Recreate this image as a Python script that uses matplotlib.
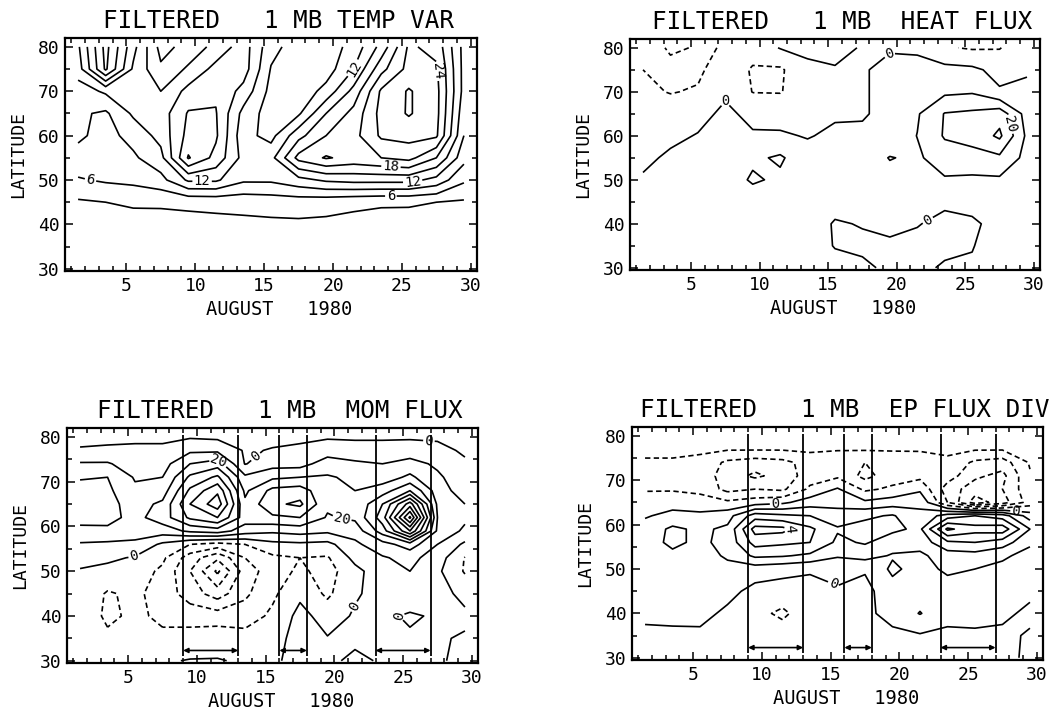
import matplotlib.pyplot as plt
import numpy as np

plt.rcParams['font.family'] = ['DejaVu Sans Mono', 'DejaVu Sans']
plt.rcParams['lines.dashed_pattern'] = [3.2, 2.0]

# grid of the filtered fields (day of August, latitude)
days = [1.5, 3.5, 5.5, 7.5, 9.5, 11.5, 13.5, 15.5, 17.5, 19.5, 21.5, 23.5, 25.5, 27.5, 29.5]
lat_top = [30, 35, 40, 45, 50, 55, 60, 65, 70, 75, 80]
lat_bot = [30, 35, 40, 45, 50, 53, 56, 59, 62, 65, 68, 71, 74, 77, 80]

# temperature variance, rows = lat_top
temp_var = [
    [1.0, 1.0, 1.0, 1.0, 1.0, 1.0, 1.0, 1.0, 1.0, 1.0, 1.0, 1.0, 1.0, 1.0, 1.0],
    [1.5, 1.5, 1.5, 1.5, 1.5, 1.5, 1.5, 1.5, 1.5, 1.5, 1.5, 1.5, 1.5, 1.5, 1.5],
    [1.8, 1.8, 1.9, 2.0, 2.1, 2.2, 2.3, 2.4, 2.5, 2.4, 2.2, 2.1, 2.0, 1.9, 1.8],
    [2.6, 3.0, 3.4, 3.4, 3.6, 3.8, 4.0, 4.3, 4.4, 4.1, 3.6, 3.3, 3.3, 3.0, 2.6],
    [5.7, 6.4, 6.8, 8.0, 12.5, 12.5, 9.5, 9.5, 11.0, 12.5, 13.0, 13.0, 13.0, 11.0, 6.5],
    [8.0, 7.5, 8.5, 11.0, 21.3, 17.0, 11.0, 11.0, 19.0, 21.3, 20.0, 21.0, 22.0, 18.0, 10.0],
    [9.5, 8.0, 10.0, 13.0, 19.0, 18.5, 10.0, 8.0, 14.0, 18.0, 20.0, 24.5, 25.0, 24.5, 12.0],
    [9.5, 8.5, 12.5, 13.5, 18.3, 18.2, 11.0, 7.5, 8.5, 15.0, 19.0, 25.0, 27.3, 25.0, 13.0],
    [10.5, 12.5, 12.5, 12.0, 16.0, 17.5, 14.0, 8.0, 7.0, 10.0, 16.0, 24.5, 27.3, 25.0, 14.0],
    [13.5, 24.5, 14.5, 9.5, 12.5, 16.0, 16.5, 8.8, 7.0, 7.5, 12.0, 20.0, 25.0, 24.5, 14.0],
    [14.5, 25.0, 16.0, 8.0, 10.0, 13.0, 16.5, 10.0, 7.5, 7.5, 10.0, 16.0, 24.5, 23.0, 14.0],
]

# eddy heat flux, rows = lat_top
heat_flux = [
    [3, 3, 3, 3, 3, 3, 3, 2, 1, -1, -1, 0.5, 0.5, 3, 3],
    [3, 3, 3, 3, 3, 3, 3, -0.3, -1, -1, -1.5, -1, -0.2, 2, 3],
    [3, 3, 3, 3, 3, 3, 3, -0.5, 0.3, 1.5, 0.3, -1.5, -1, 2, 3],
    [3, 3, 3, 3, 4, 4, 3, 2, 1.5, 3, 3, 1, 2, 3, 2],
    [1, 3, 3, 4, 11.5, 8, 4, 4, 5, 7, 7, 9, 8, 8.5, 4],
    [-2, 1.5, 3, 4, 8, 11.5, 3, 3, 5, 10.4, 8.5, 15, 17, 18, 7],
    [-4, -2, 0.5, 4, 1, 1, -0.5, 1.5, 2, 4, 10.2, 21, 23, 32, 8],
    [-6, -5, -3, 2, -2.5, -3, -3, -1, -1, 3, 9, 20.5, 22, 26, 6],
    [-8, -10.5, -9, -1.5, -10.3, -10.5, -5, -3, -1, 3, 5, 8, 9, 1, 1],
    [-10, -16, -12, -4, -11, -11.5, -2, -0.5, -1, 3, 2, 3, 2, -3, -0.5],
    [-12, -22, -19, -6, -6, 0.5, 2, 2, -0.5, -1, -1, -9, -11, -10.5, -3],
]

# eddy momentum flux, rows = lat_bot
mom_flux = [
    [-2, -3, -2, -1, 0.5, 0.5, -1, -1, 2, 1, -1, 0.5, 0.5, 0.5, -1],
    [-3, -8, -6, -8, -6, -4, -6, -3, 3, 0.5, 1, 2, 1, 1, -1],
    [-3, -12, -8, -12, -14, -15, -15, -8, 3, -4, 1, 1.5, -1, 1, 2],
    [-3, -11, -8, -14, -25, -35, -22, -12, -2, -12, -1, 3, 5, 4, -3],
    [-1, -3, -5, -12, -30, -52, -25, -15, -8, -14, -3, 6, 10, 2, -11],
    [4, 2, -1, -8, -25, -38, -20, -12, -10, -11, 3, 9, 13, 5, -10.5],
    [9, 8, 8, -2, -10, -14, -10, -3, -2, -3, 8, 16, 25, 10, -2],
    [17, 18, 14, 15, 22, 25, 15, 12, 14, 12, 14, 35, 70, 18, 8],
    [24, 23, 17, 25, 42, 50, 25, 28, 30, 19, 22, 45, 102, 20, 12],
    [25, 23, 16, 22, 50, 66, 22, 38, 42, 22, 21, 40, 75, 18, 10],
    [24, 22, 12, 15, 42, 58, 18, 33, 35, 22, 20, 25, 40, 15, 5],
    [19, 20, 9, 10, 32, 42, 12, 18, 20, 21, 18, 15, 22, 12, 3],
    [11, 11, 5, 6, 20, 25, -0.5, 6, 6, 15, 12, 10, 14, 8, 1],
    [1, 2, 2, 2, 8, 8, -1, 0.5, 1, 5, 3, 3, 4, 2, -1],
    [-3, -3, -2, -2, -1, -2, -2, -2, -1, -1, -1, -1, -1, -1, -2],
]

# EP flux divergence, rows = lat_bot
ep_div = [
    [-0.5, -0.4, -0.4, -0.5, -0.5, -0.5, -0.4, -0.3, -0.5, -0.3, -0.3, -0.3, -0.3, -0.3, 0.2],
    [-0.3, -0.3, -0.2, -0.4, -0.5, -0.5, -0.4, -0.4, -0.3, -0.2, -0.1, -0.2, -0.1, -0.2, 0.1],
    [0.3, 0.4, 0.3, -0.2, -0.7, -1.2, -0.4, -0.3, -0.2, 0.3, 1.05, 0.3, 0.2, 0.2, -0.2],
    [0.5, 0.8, 0.6, 0.3, -0.3, -0.4, -0.3, -0.1, -0.3, 0.6, 0.5, 0.5, 0.4, 0.5, 0.2],
    [0.6, 0.7, 0.7, 0.8, 0.5, 0.3, 0.1, 0.3, 0.1, 1.2, 0.6, 1.2, 1.0, 0.7, 0.1],
    [0.6, 0.8, 0.7, 1.1, 2.2, 2.1, 1.8, 1.1, 1.4, 0.9, 0.8, 1.5, 1.6, 1.2, 0.6],
    [0.6, 1.2, 0.8, 1.3, 3.4, 3.2, 3.0, 1.8, 2.1, 1.5, 1.4, 2.8, 3.0, 2.5, 1.2],
    [0.4, 1.2, 0.8, 1.2, 4.4, 4.3, 3.2, 2.1, 2.4, 2.2, 1.8, 5.2, 4.4, 4.6, 2.0],
    [-0.1, 0.3, 0.2, 0.6, 2.5, 2.2, 2.0, 1.5, 1.8, 2.1, 1.2, 2.5, 3.0, 2.5, 0.5],
    [-0.5, -0.4, -0.5, -0.8, -0.5, -0.2, 0.5, 0.6, 0.2, 0.5, 0.8, -2.0, -4.5, -3.5, -1.5],
    [-1.1, -1.1, -1.3, -2.3, -2.0, -2.2, -0.8, 0.1, -1.2, -0.8, -0.2, -2.5, -3.5, -3.0, -1.3],
    [-1.2, -1.2, -1.4, -2.5, -3.2, -2.6, -1.5, -1.2, -2.3, -1.5, -1.3, -1.5, -2.8, -3.3, -1.1],
    [-1.1, -1.1, -1.3, -2.2, -2.5, -2.3, -1.6, -1.8, -2.0, -1.6, -1.5, -1.2, -2.2, -2.5, -0.9],
    [-0.8, -0.8, -0.8, -0.9, -0.9, -0.9, -0.8, -0.9, -0.9, -0.9, -0.9, -0.8, -0.9, -0.9, -0.6],
    [-0.6, -0.6, -0.6, -0.6, -0.6, -0.6, -0.5, -0.5, -0.5, -0.5, -0.5, -0.5, -0.5, -0.5, -0.5],
]

temp_levels = [3, 6, 9, 12, 15, 18, 21, 24, 27]
heat_levels = [-20, -10, 0, 10, 20, 30]
mom_levels = [-60, -50, -40, -30, -20, -10, 0, 10, 20, 30, 40, 50, 60, 70, 80, 90, 100]
ep_levels = [-5, -4, -3, -2, -1, 0, 1, 2, 3, 4, 5]

# warming periods marked in the lower panels (days of August)
periods = [(9, 13), (16, 18), (23, 27)]

x_ticks = [5, 10, 15, 20, 25, 30]
y_ticks = [30, 40, 50, 60, 70, 80]


def style_axes(ax, title):
    ax.set_xlim(0.55, 30.45)
    ax.set_ylim(29.5, 82)
    ax.set_xticks(x_ticks)
    ax.set_xticks(range(1, 31), minor=True)
    ax.set_yticks(y_ticks)
    ax.set_yticks([35, 45, 55, 65, 75], minor=True)
    ax.tick_params(which='both', direction='in', top=True, right=True,
                   width=1.1, labelsize=13, pad=4)
    ax.tick_params(which='major', length=6)
    ax.tick_params(which='minor', length=3.5)
    for s in ax.spines.values():
        s.set_linewidth(1.6)
    t = ax.set_title(title, fontsize=17.5, pad=7)
    t.set_x(0.517)
    ax.set_xlabel('AUGUST   1980', fontsize=13.5)
    ax.xaxis.set_label_coords(0.52, -0.165)
    ax.xaxis.label.set_verticalalignment('center')
    ax.set_ylabel('LATITUDE', fontsize=13)
    ax.yaxis.set_label_coords(-0.114, 0.5)
    ax.yaxis.label.set_verticalalignment('center')


def contour_set(ax, lats, field, levels):
    styles = ['dashed' if lev < 0 else 'solid' for lev in levels]
    return ax.contour(days, lats, np.array(field), levels=levels, colors='black',
                      linewidths=1.2, linestyles=styles)


def draw_field(ax, lats, field, levels, label_levels, label_pos):
    # unlabelled levels and labelled levels go in two sets so that the
    # labels only break the lines they sit on
    other = [lev for lev in levels if lev not in label_levels]
    contour_set(ax, lats, field, other)
    cs = contour_set(ax, lats, field, label_levels)
    ax.clabel(cs, manual=label_pos, fmt='%d', fontsize=10,
              inline=True, inline_spacing=2)


def draw_periods(ax):
    for start, end in periods:
        ax.vlines([start, end], 31.0, 80.5, colors='black', linewidth=1.3)
        ax.annotate('', xy=(end, 32.3), xytext=(start, 32.3),
                    arrowprops=dict(arrowstyle='<|-|>', color='black', lw=1.2,
                                    mutation_scale=7, shrinkA=0, shrinkB=0))


fig = plt.figure(figsize=(10.61, 7.10), dpi=100)
W, H = 1061, 710
ax_tl = fig.add_axes([65 / W, (H - 271) / H, 412 / W, 233 / H])
ax_tr = fig.add_axes([630 / W, (H - 270) / H, 410 / W, 231 / H])
ax_bl = fig.add_axes([67 / W, (H - 663) / H, 411 / W, 235 / H])
ax_br = fig.add_axes([632 / W, (H - 660) / H, 411 / W, 233 / H])

draw_field(ax_tl, lat_top, temp_var, temp_levels, [6, 12, 18, 24],
           [(2.4, 50), (10.5, 50.3), (24.2, 52.7), (25.8, 49.3), (24.2, 46.3),
            (21.6, 75), (26.8, 74.4)])
style_axes(ax_tl, 'FILTERED   1 MB TEMP VAR')

draw_field(ax_tr, lat_top, heat_flux, heat_levels, [0, 20],
           [(7.5, 68), (19.5, 78.5), (22.5, 39.5), (27.5, 62)])
style_axes(ax_tr, 'FILTERED   1 MB  HEAT FLUX')

draw_field(ax_bl, lat_bot, mom_flux, mom_levels, [0, 20],
           [(5.4, 54), (20.5, 60.8), (14.3, 75.5), (20.5, 43.6), (24.4, 40.4),
            (11.7, 75.2), (26.8, 75.2)])
draw_periods(ax_bl)
style_axes(ax_bl, 'FILTERED   1 MB  MOM FLUX')

draw_field(ax_br, lat_bot, ep_div, ep_levels, [0, 4],
           [(11, 64.5), (13.2, 56), (15.5, 49), (28.5, 63.5)])
draw_periods(ax_br)
style_axes(ax_br, 'FILTERED   1 MB  EP FLUX DIV')

fig.savefig('out.png', dpi=100)
